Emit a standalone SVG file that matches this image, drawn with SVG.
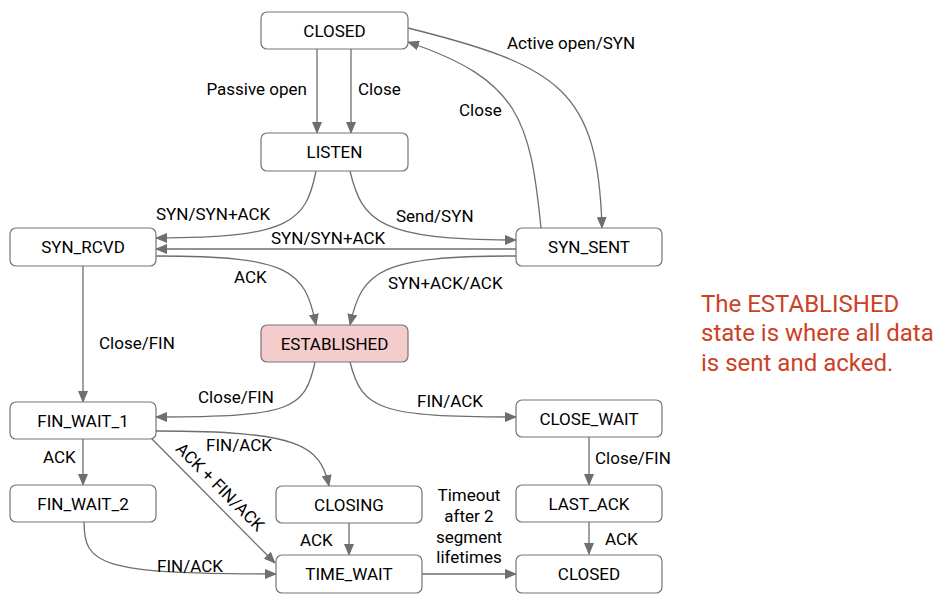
<svg xmlns="http://www.w3.org/2000/svg" width="951" height="608" viewBox="0 0 951 608">
<defs>
<style>
.n rect{fill:#fff;stroke:#757575;stroke-width:1.2}
.n text{font-family:Roboto,"Liberation Sans",sans-serif;font-size:17px;fill:#000;text-anchor:middle}
.e path{fill:none;stroke:#6e6e6e;stroke-width:1.3;marker-end:url(#ah)}
.l{font-family:Roboto,"Liberation Sans",sans-serif;font-size:17px;fill:#000}
.note{font-family:Roboto,"Liberation Sans",sans-serif;font-size:24px;fill:#cc4125}
</style>
<marker id="ah" markerUnits="userSpaceOnUse" markerWidth="12" markerHeight="10" refX="11" refY="5" orient="auto">
<path d="M0,0 L12,5 L0,10 Z" fill="#6e6e6e"/>
</marker>
</defs>
<rect width="951" height="608" fill="#fff"/>
<g class="e" id="connectors">
<path d="M317,49 V133"/>
<path d="M351,49 V133"/>
<path d="M408,28 C560,66 598,90 602,228"/>
<path d="M541,228 C530,120 520,80 408,42"/>
<path d="M316,171 C306,222 290,238 156,238"/>
<path d="M350,171 C362,222 380,240 516,240"/>
<path d="M516,249 H156"/>
<path d="M156,256 C290,256 305,270 316,325"/>
<path d="M516,256 C380,256 362,270 350,325"/>
<path d="M83,266 V402"/>
<path d="M315,362 C305,410 290,417 156,417"/>
<path d="M350,362 C362,410 380,417 516,417"/>
<path d="M156,431 C300,431 320,445 329,486"/>
<path d="M152,439 L275,563"/>
<path d="M83,439 V485"/>
<path d="M84,522 C84,565 100,574 276,574"/>
<path d="M349,523 V555"/>
<path d="M422,574 H516"/>
<path d="M589,437 V485"/>
<path d="M589,522 V554"/>
</g>
<g id="closed_top" class="n"><rect x="261" y="12" width="147" height="37" rx="6"/><text x="334.5" y="37">CLOSED</text></g>
<g id="listen" class="n"><rect x="261" y="133" width="147" height="38" rx="6"/><text x="334.5" y="158">LISTEN</text></g>
<g id="syn_rcvd" class="n"><rect x="10" y="228" width="146" height="38" rx="6"/><text x="83" y="253">SYN_RCVD</text></g>
<g id="syn_sent" class="n"><rect x="516" y="228" width="146" height="38" rx="6"/><text x="589" y="253">SYN_SENT</text></g>
<g id="established" class="n"><rect x="261" y="325" width="147" height="37" rx="6" style="fill:#f4cccc"/><text x="334.5" y="350">ESTABLISHED</text></g>
<g id="fin_wait_1" class="n"><rect x="10" y="402" width="146" height="37" rx="6"/><text x="83" y="427">FIN_WAIT_1</text></g>
<g id="close_wait" class="n"><rect x="516" y="400" width="146" height="37" rx="6"/><text x="589" y="425">CLOSE_WAIT</text></g>
<g id="fin_wait_2" class="n"><rect x="10" y="485" width="146" height="37" rx="6"/><text x="83" y="510">FIN_WAIT_2</text></g>
<g id="closing" class="n"><rect x="276" y="486" width="146" height="37" rx="6"/><text x="349" y="511">CLOSING</text></g>
<g id="last_ack" class="n"><rect x="516" y="485" width="146" height="37" rx="6"/><text x="589" y="510">LAST_ACK</text></g>
<g id="time_wait" class="n"><rect x="276" y="555" width="146" height="38" rx="6"/><text x="349" y="580">TIME_WAIT</text></g>
<g id="closed_bottom" class="n"><rect x="516" y="555" width="146" height="38" rx="6"/><text x="589" y="580">CLOSED</text></g>
<g id="labels">
<text class="l" x="307" y="95" text-anchor="end">Passive open</text>
<text class="l" x="358" y="95">Close</text>
<text class="l" x="507" y="49">Active open/SYN</text>
<text class="l" x="459" y="116">Close</text>
<text class="l" x="156" y="220">SYN/SYN+ACK</text>
<text class="l" x="396" y="222">Send/SYN</text>
<text class="l" x="271" y="244">SYN/SYN+ACK</text>
<text class="l" x="234" y="283">ACK</text>
<text class="l" x="388" y="289">SYN+ACK/ACK</text>
<text class="l" x="99" y="349">Close/FIN</text>
<text class="l" x="198" y="403">Close/FIN</text>
<text class="l" x="417" y="407">FIN/ACK</text>
<text class="l" x="206" y="451">FIN/ACK</text>
<text class="l" x="43" y="463">ACK</text>
<text class="l" x="0" y="0" text-anchor="middle" transform="translate(216,491) rotate(45)">ACK + FIN/ACK</text>
<text class="l" x="157" y="572">FIN/ACK</text>
<text class="l" x="300" y="546">ACK</text>
<text class="l" x="469" y="501" text-anchor="middle">Timeout</text>
<text class="l" x="469" y="522" text-anchor="middle">after 2</text>
<text class="l" x="469" y="543" text-anchor="middle">segment</text>
<text class="l" x="469" y="563" text-anchor="middle">lifetimes</text>
<text class="l" x="595" y="464">Close/FIN</text>
<text class="l" x="605" y="545">ACK</text>
</g>
<g id="note">
<text class="note" x="701" y="312">The ESTABLISHED</text>
<text class="note" x="701" y="341">state is where all data</text>
<text class="note" x="701" y="371">is sent and acked.</text>
</g>
</svg>
